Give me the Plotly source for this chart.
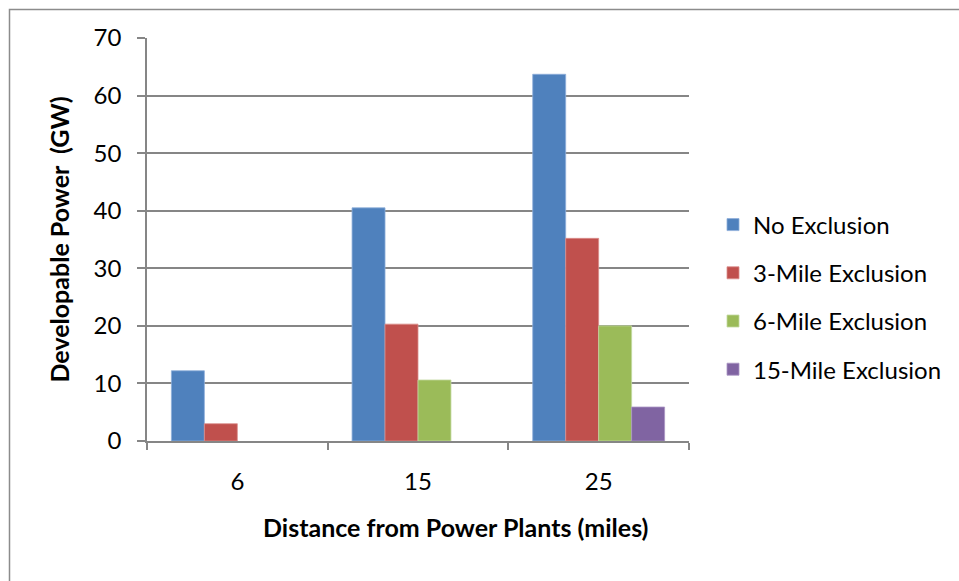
import plotly.graph_objects as go

categories = ["6", "15", "25"]
series_names = ["No Exclusion", "3-Mile Exclusion", "6-Mile Exclusion", "15-Mile Exclusion"]
no_exclusion = [12.2, 40.5, 63.7]
mile3_exclusion = [3.0, 20.3, 35.2]
mile6_exclusion = [None, 10.6, 20.0]
mile15_exclusion = [None, None, 5.9]
y_ticks = [0, 10, 20, 30, 40, 50, 60, 70]
x_title = "Distance from Power Plants (miles)"
y_title = "Developable Power  (GW)"

colors = ["#4F81BD", "#C0504D", "#9BBB59", "#8064A2"]
edge = ["#8EAEDB", "#DA8E8C", "#C3D9A1", "#A996C4"]
series_values = [no_exclusion, mile3_exclusion, mile6_exclusion, mile15_exclusion]

FONT = "Lato"
GRID = "#868686"

fig = go.Figure()
for i, (name, vals) in enumerate(zip(series_names, series_values)):
    fig.add_trace(go.Bar(
        x=categories, y=vals, name=name,
        marker=dict(color=colors[i], line=dict(color=edge[i], width=0.8)),
        legendgroup=f"g{i}",
    ))

L, R, T, B = 147, 270, 38, 140
W, H = 959, 581
pw = W - L - R
ph = H - T - B

def px_x(p):
    return (p - L) / pw

def px_y(p):
    return (H - B - p) / ph

fig.update_layout(
    width=W, height=H,
    margin=dict(l=L, r=R, t=T, b=B, autoexpand=False),
    paper_bgcolor="white", plot_bgcolor="white",
    barmode="group", bargap=0.27, bargroupgap=0,
    font=dict(family=FONT, size=24, color="#000000"),
    legend=dict(
        x=px_x(713), xanchor="left",
        y=px_y(297), yanchor="middle",
        font=dict(family=FONT, size=24, color="#000000"),
        tracegroupgap=14, bgcolor="rgba(0,0,0,0)",
    ),
    xaxis=dict(
        type="category", tickson="boundaries",
        ticks="outside", ticklen=7, tickcolor=GRID, tickwidth=1.5,
        showline=True, linecolor=GRID, linewidth=1.5,
        showgrid=False, ticklabelstandoff=18,
        tickfont=dict(family=FONT, size=24),
    ),
    yaxis=dict(
        range=[0, 70], tickvals=y_ticks,
        ticks="outside", ticklen=8, tickcolor=GRID, tickwidth=1.5,
        showline=True, linecolor=GRID, linewidth=1.5,
        showgrid=True, gridcolor=GRID, gridwidth=1.5,
        zeroline=False, ticklabelstandoff=11,
        tickfont=dict(family=FONT, size=24),
        title=dict(text=f"<b>{y_title}</b>",
                   font=dict(family=FONT, size=25), standoff=17),
    ),
    annotations=[dict(
        text=f"<b>{x_title}</b>", xref="paper", yref="paper",
        x=px_x(455), y=px_y(527), xanchor="center", yanchor="middle",
        showarrow=False, font=dict(family=FONT, size=25, color="#000000"),
    )],
    shapes=[dict(
        type="rect", xref="paper", yref="paper",
        x0=px_x(9.5), x1=px_x(1000), y0=px_y(700), y1=px_y(9.5),
        line=dict(color="#8C8C8C", width=1.5), fillcolor="rgba(0,0,0,0)",
        layer="below",
    )],
)

fig.write_html("out.html")
